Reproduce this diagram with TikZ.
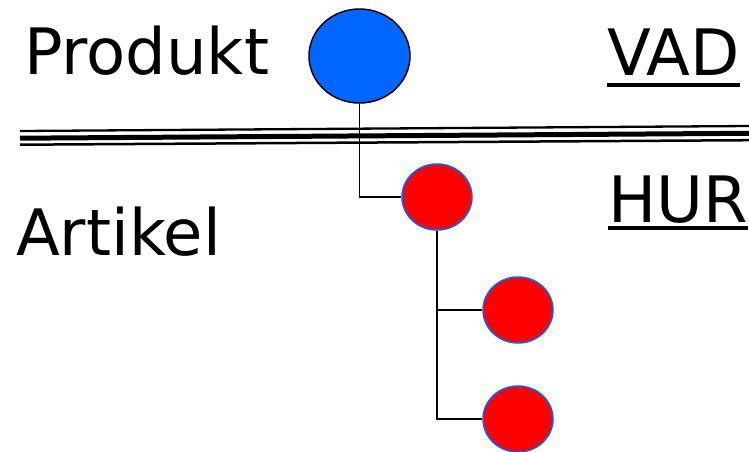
\documentclass[tikz,border=0pt]{standalone}
\usepackage{fontspec}
\setmainfont{DejaVu Sans}
\usetikzlibrary{positioning}
\usetikzlibrary{shapes.geometric}
\definecolor{prodblue}{RGB}{0,102,255}
\definecolor{artred}{RGB}{255,0,0}

\begin{document}
\begin{tikzpicture}[x=1pt,y=-1pt]
    \tikzset{base/.style = {ellipse, inner sep=0pt, line width=1.5pt}}
    \tikzset{product/.style = {base, draw=black, fill=prodblue,
                              minimum width=101pt, minimum height=94pt}}
    \tikzset{article/.style = {base, draw=prodblue, fill=artred,
                              minimum width=70pt, minimum height=66pt}}
    \tikzset{word/.style = {anchor=base west, inner sep=0pt,
                           font=\fontsize{64}{70}\selectfont}}
    \tikzset{tree/.style = {draw=black, line width=1.5pt}}

    \useasboundingbox (0,0) rectangle (749,451);

    \node (produkt) [word] at (24,74) {Produkt};
    \node (artikel) [word] at (16,255) {Artikel};
    \node (vad) [word] at (607,75) {VAD};
    \node (hur) [word] at (608,222) {HUR};
    \draw[line width=4pt] (vad.base west) ++(0,10) -- ([yshift=-10pt]vad.base east);
    \draw[line width=4pt] (hur.base west) ++(0,6) -- ([yshift=-6pt]hur.base east);

    % dividing line
    \draw[line width=2.3pt] (20,131) -- (749,126);
    \draw[line width=5pt] (20,138.2) -- (749,133.3);
    \draw[line width=2.5pt] (20,144.7) -- (749,140.2);

    \node (P) [product] at (359.5,56) {};
    \node (A1) [article] at (437,197) {};
    \node (A2) [article] at (518,310) {};
    \node (A3) [article] at (518,419) {};

    \draw[tree] (P) |- (A1);
    \draw[tree] (A1) |- (A2);
    \draw[tree] (A1) |- (A3);

\end{tikzpicture}
\end{document}
